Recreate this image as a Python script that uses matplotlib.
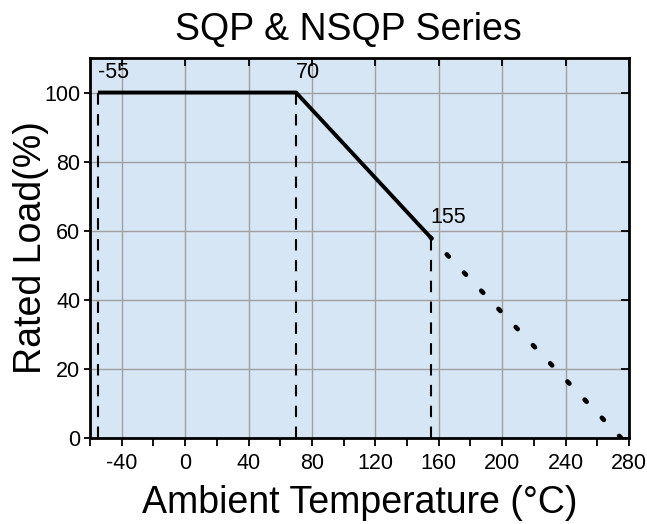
import numpy as np
import matplotlib.pyplot as plt
from matplotlib.ticker import MultipleLocator

plt.rcParams['font.family'] = ['Liberation Sans', 'DejaVu Sans']
plt.rcParams['axes.unicode_minus'] = False

# derating curve
temp_solid = [-55, 70, 155]
load_solid = [100, 100, 58]
temp_dotted = [275, 155]
load_dotted = [0, 58]
marker_temps = [-55, 70, 155]
marker_loads = [100, 100, 58]
marker_labels = ['-55', '70', '155']

fig = plt.figure(figsize=(6.47, 5.24), dpi=100)
ax = fig.add_axes([90 / 647, 1 - 438 / 524, 539 / 647, 380 / 524])
ax.set_facecolor('#d6e6f4')

ax.set_xlim(-60, 280)
ax.set_ylim(0, 110)
ax.set_xticks(np.arange(-40, 281, 40))
ax.set_yticks(np.arange(0, 101, 20))
ax.xaxis.set_minor_locator(MultipleLocator(20))
ax.grid(True, which='major', color='#a0a0a0', linewidth=1)
ax.set_axisbelow(True)

ax.tick_params(axis='both', which='both', labelsize=15.5, width=1.3,
               top=True, right=True, direction='out', pad=3)
ax.tick_params(axis='x', which='both', length=6, pad=5)
ax.tick_params(axis='y', which='both', length=4)
for t in ax.xaxis.get_major_ticks():
    t.tick2line.set_marker(3)
for t in ax.xaxis.get_minor_ticks():
    t.tick2line.set_visible(False)
for t in ax.yaxis.get_major_ticks():
    t.tick2line.set_marker(0)
    t.tick2line.set_markersize(6)
for s in ax.spines.values():
    s.set_linewidth(2)

# dashed verticals
for x, y in zip(marker_temps, marker_loads):
    ax.plot([x, x], [0, y], color='black', linewidth=1.5, linestyle=(0, (5.5, 4.5)))

ax.plot(temp_solid, load_solid, color='black', linewidth=2.8, solid_capstyle='butt')
ax.plot(temp_dotted, load_dotted, color='black', linewidth=3.4,
        linestyle=(0, (0.6, 4.7)), dash_capstyle='round')

for x, y, s in zip(marker_temps, marker_loads, marker_labels):
    ax.text(x, y + 2.8, s, fontsize=15.5, ha='left', va='bottom')

ax.set_title('SQP & NSQP Series', fontsize=27, pad=13, x=0.479)
ax.set_xlabel('Ambient Temperature (°C)', fontsize=27, labelpad=8)
ax.set_ylabel('Rated Load(%)', fontsize=27)
ax.yaxis.set_label_coords(-0.076, 0.5)

fig.savefig('out.png', dpi=100)
